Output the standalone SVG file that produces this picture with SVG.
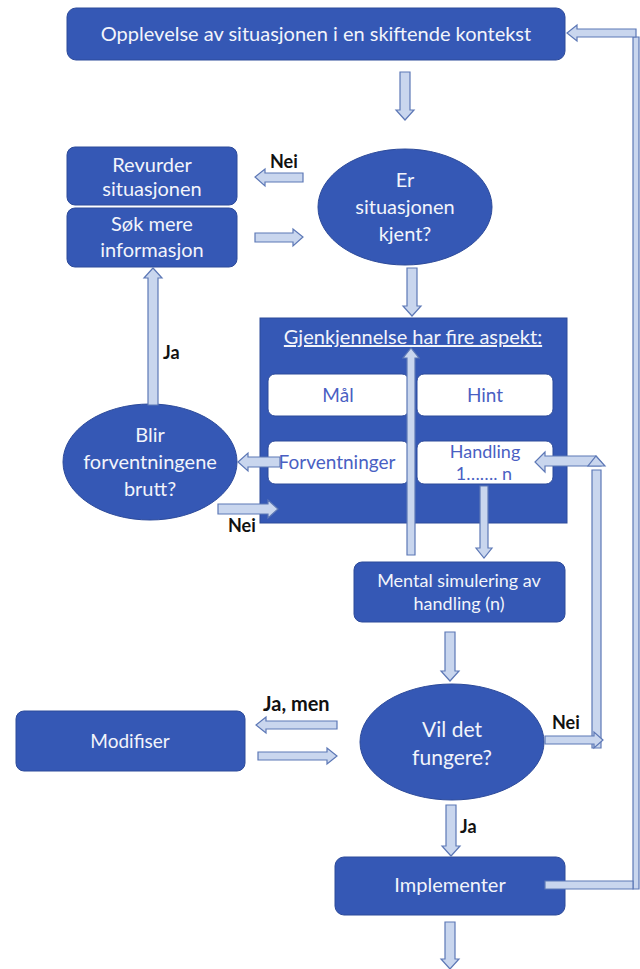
<svg xmlns="http://www.w3.org/2000/svg" width="640" height="969" viewBox="0 0 640 969">
<style>
.box{fill:#3558b5;stroke:#2c4a9a;stroke-width:1}
.wbox{fill:#ffffff;stroke:#2c4a9a;stroke-width:1}
.t{font-family:Lato,"Open Sans","Liberation Sans",sans-serif;font-size:20px;fill:#f2f4fb;text-anchor:middle}
.tb{font-family:Lato,"Open Sans","Liberation Sans",sans-serif;font-size:19px;fill:#4a5fc3;text-anchor:middle}
.lbl{font-family:Lato,"Open Sans","Liberation Sans",sans-serif;font-size:18px;font-weight:bold;fill:#111111}
.arr{fill:#c9d6ee;stroke:#5d78b6;stroke-width:1.2;stroke-linejoin:miter}
</style>
<rect width="640" height="969" fill="#ffffff"/>

<g id="n-top"><rect class="box" x="67" y="8" width="498" height="52" rx="9"/><text class="t" x="316" y="41">Opplevelse av situasjonen i en skiftende kontekst</text></g>

<g id="n-revurder"><rect class="box" x="67" y="147" width="170" height="58" rx="8"/><text class="t" x="152" y="172">Revurder</text><text class="t" x="152" y="196">situasjonen</text></g>
<g id="n-sok"><rect class="box" x="67" y="208" width="170" height="59" rx="8"/><text class="t" x="152" y="231">Søk mere</text><text class="t" x="152" y="257">informasjon</text></g>

<g id="n-er"><ellipse class="box" cx="405" cy="207" rx="87" ry="58"/><text class="t" x="405" y="187">Er</text><text class="t" x="405" y="214">situasjonen</text><text class="t" x="405" y="241">kjent?</text></g>

<g id="n-gjenkjennelse"><rect class="box" x="260" y="318" width="307" height="205"/><text class="t" x="413" y="344" text-decoration="underline">Gjenkjennelse har fire aspekt:</text></g>
<g id="n-mal"><rect class="wbox" x="268" y="374" width="141" height="42" rx="7"/><text class="tb" x="338" y="402">Mål</text></g>
<g id="n-hint"><rect class="wbox" x="417" y="374" width="136" height="42" rx="7"/><text class="tb" x="485" y="402">Hint</text></g>
<g id="n-forv"><rect class="wbox" x="268" y="441" width="141" height="43" rx="7"/><text class="tb" x="337" y="469">Forventninger</text></g>
<g id="n-handling"><rect class="wbox" x="417" y="441" width="136" height="43" rx="7"/><text class="tb" x="485" y="458" style="font-size:18px">Handling</text><text class="tb" x="484" y="480" style="font-size:18px">1……. n</text></g>

<g id="n-blir"><ellipse class="box" cx="150" cy="462" rx="87" ry="58"/><text class="t" x="150" y="442">Blir</text><text class="t" x="150" y="469">forventningene</text><text class="t" x="150" y="496">brutt?</text></g>

<g id="n-mental"><rect class="box" x="354" y="562" width="211" height="60" rx="8"/><text class="t" x="459" y="587" style="font-size:18px">Mental simulering av</text><text class="t" x="459" y="610" style="font-size:18px">handling (n)</text></g>

<g id="n-vil"><ellipse class="box" cx="452" cy="742" rx="92" ry="58"/><text class="t" x="452" y="737" style="font-size:21px">Vil det</text><text class="t" x="452" y="765" style="font-size:21px">fungere?</text></g>

<g id="n-modifiser"><rect class="box" x="16" y="711" width="229" height="60" rx="8"/><text class="t" x="130" y="748" style="font-size:19px">Modifiser</text></g>

<g id="n-implementer"><rect class="box" x="335" y="857" width="230" height="58" rx="9"/><text class="t" x="450" y="892">Implementer</text></g>

<g id="connectors">
<polygon class="arr" points="633,37 639,37 639,889 633,889"/>
<polygon class="arr" points="636,29 577,29 577,25 567,33 577,41 577,37 636,37"/>
<polygon class="arr" points="545,881 633,881 633,889 545,889"/>
<polygon class="arr" points="400,72 410,72 410,110 414,110 405,120 396,110 400,110"/>
<polygon class="arr" points="303,173 265,173 265,169 255,177 265,186 265,182 303,182"/>
<polygon class="arr" points="255,233 293,233 293,229 303,237 293,246 293,242 255,242"/>
<polygon class="arr" points="407,268 417,268 417,306 421,306 412,316 403,306 407,306"/>
<polygon class="arr" points="148,405 158,405 158,278 162,278 153,268 144,278 148,278"/>
<polygon class="arr" points="407,555 415,555 415,358 419,358 411,348 403,358 407,358"/>
<polygon class="arr" points="480,486 488,486 488,548 492,548 484,558 476,548 480,548"/>
<polygon class="arr" points="280,457 248,457 248,453 238,462 248,471 248,467 280,467"/>
<polygon class="arr" points="218,504 268,504 268,500 278,509 268,518 268,514 218,514"/>
<polygon class="arr" points="445,632 455,632 455,671 459,671 450,681 441,671 445,671"/>
<polygon class="arr" points="337,721 266,721 266,717 256,725 266,733 266,729 337,729"/>
<polygon class="arr" points="258,752 327,752 327,748 337,756 327,764 327,760 258,760"/>
<polygon class="arr" points="446,805 456,805 456,846 460,846 451,856 442,846 446,846"/>
<polygon class="arr" points="445,922 455,922 455,959 459,959 450,969 441,959 445,959"/>
<polygon class="arr" points="592,470 601,470 601,748 592,748"/>
<polygon class="arr" points="545,736 594,736 594,732 603,740 594,748 594,744 545,744"/>
<polygon class="arr" points="601,466 601,462 596,456 545,456 545,452 535,462 545,472 545,466 592,466"/>
<polygon class="arr" points="588,466 605,466 596,456"/>
</g>

<text class="lbl" x="270" y="168">Nei</text>
<text class="lbl" x="163" y="359">Ja</text>
<text class="lbl" x="228" y="532">Nei</text>
<text class="lbl" x="263" y="711" style="font-size:20px">Ja, men</text>
<text class="lbl" x="552" y="729">Nei</text>
<text class="lbl" x="460" y="833">Ja</text>
</svg>
